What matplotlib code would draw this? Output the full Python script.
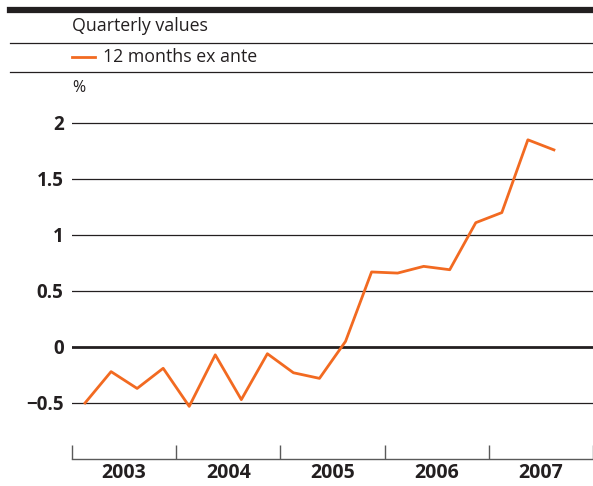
import matplotlib

matplotlib.use("Agg")
import matplotlib.pyplot as plt
from matplotlib.lines import Line2D

# quarterly series, 2003 Q1 .. 2007 Q3
years = [2003, 2004, 2005, 2006, 2007]
quarters = ["2003Q1", "2003Q2", "2003Q3", "2003Q4",
            "2004Q1", "2004Q2", "2004Q3", "2004Q4",
            "2005Q1", "2005Q2", "2005Q3", "2005Q4",
            "2006Q1", "2006Q2", "2006Q3", "2006Q4",
            "2007Q1", "2007Q2", "2007Q3"]
ex_ante = [-0.50, -0.22, -0.37, -0.19, -0.53, -0.07, -0.47, -0.06,
           -0.23, -0.28, 0.05, 0.67, 0.66, 0.72, 0.69, 1.11, 1.20, 1.85, 1.76]
yticks = [-0.5, 0, 0.5, 1, 1.5, 2]
ytick_labels = ["\u22120.5", "0", "0.5", "1", "1.5", "2"]

ORANGE = "#f26a21"
DARK = "#231f20"
GREY = "#5a5a5a"
plt.rcParams["font.family"] = ["Open Sans", "DejaVu Sans"]

W, H = 593, 486
fig = plt.figure(figsize=(W / 100, H / 100), dpi=100)


def fx(px):
    return px / W


def fy(py):
    return 1 - py / H


# header rules
fig.add_artist(Line2D([fx(10), 1], [fy(10), fy(10)], color=DARK, lw=4.5))
fig.add_artist(Line2D([fx(10), 1], [fy(43), fy(43)], color=DARK, lw=0.9))
fig.add_artist(Line2D([fx(10), 1], [fy(72), fy(72)], color=DARK, lw=0.9))
fig.text(fx(72), fy(26), "Quarterly values", fontsize=12.8, color=DARK, va="center")
fig.add_artist(Line2D([fx(72), fx(95)], [fy(57), fy(57)], color=ORANGE, lw=2))
fig.text(fx(103), fy(57), "12 months ex ante", fontsize=12.8, color=DARK, va="center")
fig.text(fx(72), fy(88), "%", fontsize=11.5, color=DARK, va="center")

ax = fig.add_axes([fx(72), fy(459), 1 - fx(72), (459 - 100.6) / H])
xs = [int(q[:4]) + (int(q[-1]) - 0.5) / 4 for q in quarters]
ax.plot(xs, ex_ante, color=ORANGE, lw=2, zorder=3)

ax.set_ylim(-1.0, 2.2)
ax.set_xlim(2003, 2007.962)
for y in yticks:
    ax.axhline(y, color=DARK, lw=2.0 if y == 0 else 0.9, zorder=2)
ax.set_yticks(yticks)
ax.set_yticklabels(ytick_labels, fontweight="bold", fontsize=13.5, color=DARK)
ax.tick_params(axis="y", length=0, pad=6)

ax.set_xticks(years + [2008])
ax.set_xticklabels([])
ax.set_xticks([y + 0.5 for y in years], minor=True)
ax.set_xticklabels([str(y) for y in years], minor=True,
                   fontweight="bold", fontsize=14, color=DARK)
ax.tick_params(axis="x", which="major", direction="in", length=10,
               width=1, color=GREY)
ax.tick_params(axis="x", which="minor", length=0, pad=3)

for side in ("top", "right", "left"):
    ax.spines[side].set_visible(False)
ax.spines["bottom"].set_color(GREY)
ax.spines["bottom"].set_linewidth(1)
ax.set_facecolor("none")

fig.savefig("out.png", dpi=100)
